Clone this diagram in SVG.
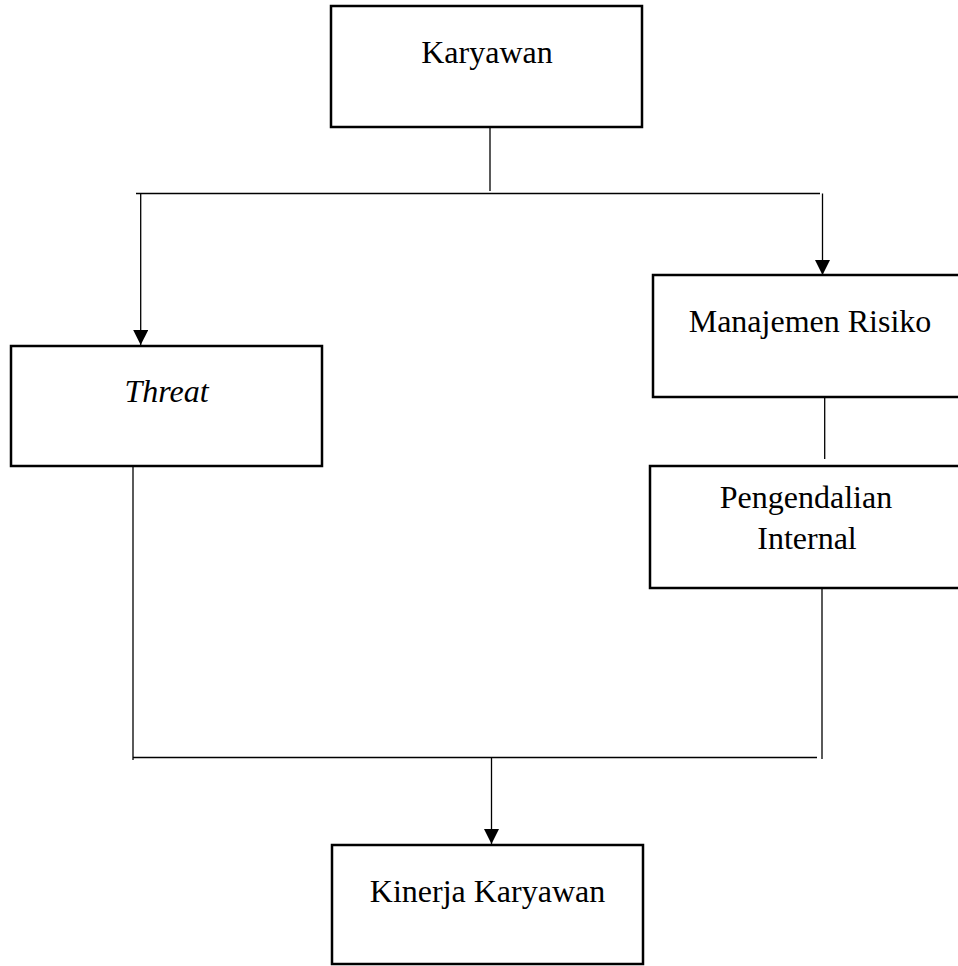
<svg xmlns="http://www.w3.org/2000/svg" width="958" height="966" viewBox="0 0 958 966">
<style>
.box{fill:#fff;stroke:#000;stroke-width:2.5}
.lbl{font-family:"Liberation Serif","Times New Roman",serif;font-size:32px;fill:#000;text-anchor:middle}
.con{stroke:#000;stroke-width:1.3;fill:none}
</style>
<defs>
<marker id="ah" markerUnits="userSpaceOnUse" markerWidth="15" markerHeight="15" refX="15" refY="7.5" orient="auto">
<path d="M0,0 L15,7.5 L0,15 z" fill="#000"/>
</marker>
</defs>
<rect width="958" height="966" fill="#fff"/>
<g id="connectors">
<line class="con" x1="490" y1="127" x2="490" y2="191"/>
<line class="con" x1="136" y1="193.5" x2="820" y2="193.5"/>
<line class="con" x1="140.7" y1="193.5" x2="140.7" y2="345" marker-end="url(#ah)"/>
<line class="con" x1="822.5" y1="193.5" x2="822.5" y2="275" marker-end="url(#ah)"/>
<line class="con" x1="824.7" y1="397" x2="824.7" y2="459"/>
<line class="con" x1="133" y1="466" x2="133" y2="760"/>
<line class="con" x1="822" y1="588" x2="822" y2="759"/>
<line class="con" x1="133" y1="757.5" x2="817" y2="757.5"/>
<line class="con" x1="491.5" y1="757.5" x2="491.5" y2="844" marker-end="url(#ah)"/>
</g>
<g id="karyawan">
<rect class="box" x="331" y="6" width="311" height="121"/>
<text class="lbl" x="487" y="63">Karyawan</text>
</g>
<g id="threat">
<rect class="box" x="11" y="346" width="311" height="120"/>
<text class="lbl" x="166.5" y="402" font-style="italic">Threat</text>
</g>
<g id="manajemen-risiko">
<rect class="box" x="653" y="275" width="312" height="122"/>
<text class="lbl" x="810" y="332">Manajemen Risiko</text>
</g>
<g id="pengendalian-internal">
<rect class="box" x="650" y="466" width="315" height="122"/>
<text class="lbl" x="806" y="508">Pengendalian</text>
<text class="lbl" x="807" y="549">Internal</text>
</g>
<g id="kinerja-karyawan">
<rect class="box" x="332" y="845" width="311" height="119"/>
<text class="lbl" x="487.5" y="902">Kinerja Karyawan</text>
</g>
</svg>
